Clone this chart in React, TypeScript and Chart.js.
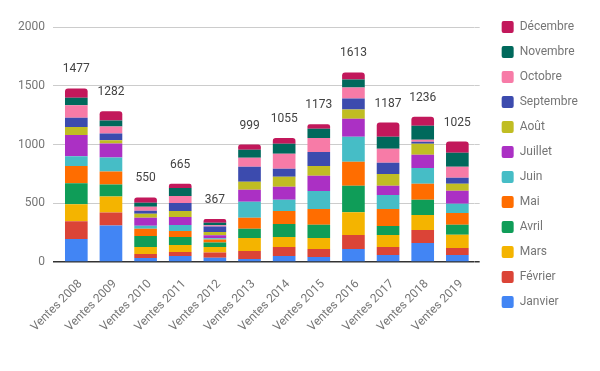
import React, { useEffect, useRef } from "react";
import { Chart, registerables } from "chart.js";

Chart.register(...registerables);

const categories = [
  "Ventes 2008", "Ventes 2009", "Ventes 2010", "Ventes 2011", "Ventes 2012", "Ventes 2013",
  "Ventes 2014", "Ventes 2015", "Ventes 2016", "Ventes 2017", "Ventes 2018", "Ventes 2019",
];

const janvier = [195, 311, 34, 51, 37, 26, 51, 43, 111, 60, 162, 60];
const fevrier = [152, 111, 34, 34, 43, 68, 77, 68, 119, 68, 111, 60];
const mars = [145, 136, 60, 60, 48, 111, 85, 94, 193, 102, 128, 111];
const avril = [179, 102, 94, 68, 37, 77, 111, 111, 227, 77, 128, 85];
const mai = [147, 111, 60, 51, 26, 94, 111, 136, 204, 145, 136, 102];
const juin = [83, 119, 26, 51, 11, 136, 94, 153, 213, 119, 136, 77];
const juillet = [179, 119, 68, 68, 26, 102, 111, 128, 153, 77, 111, 111];
const aout = [68, 28, 34, 51, 28, 68, 85, 85, 77, 102, 94, 60];
const septembre = [79, 57, 26, 68, 46, 128, 68, 119, 94, 94, 17, 51];
const octobre = [108, 60, 34, 60, 11, 77, 128, 119, 94, 119, 17, 94];
const novembre = [62, 51, 34, 68, 20, 68, 85, 77, 68, 102, 119, 119];
const decembre = [80, 77, 46, 35, 34, 44, 49, 40, 60, 122, 77, 95];

const seriesNames = [
  "Janvier", "Février", "Mars", "Avril", "Mai", "Juin",
  "Juillet", "Août", "Septembre", "Octobre", "Novembre", "Décembre",
];
const seriesData = [janvier, fevrier, mars, avril, mai, juin, juillet, aout, septembre, octobre, novembre, decembre];
const seriesColors = [
  "#4285F4", "#DB4437", "#F4B400", "#0F9D58", "#FF6D00", "#46BDC6",
  "#AB30C4", "#C0BD23", "#3C4BAE", "#F77BA7", "#00695C", "#C2185B",
];

const yTickStep = 500;
const yMax = 2000;

const totalsPlugin = {
  id: "totals",
  afterDatasetsDraw(chart: any) {
    const ctx = chart.ctx;
    const xs = chart.scales.x;
    const ys = chart.scales.y;
    ctx.save();
    ctx.font = "12px Roboto";
    ctx.fillStyle = "#424242";
    ctx.textAlign = "center";
    ctx.textBaseline = "alphabetic";
    categories.forEach((_, i) => {
      let total = 0;
      chart.data.datasets.forEach((ds: any) => (total += ds.data[i]));
      const x = xs.getPixelForValue(i);
      const y = ys.getPixelForValue(total) - 16;
      ctx.fillText(String(total), x, y);
    });
    ctx.restore();
  },
};

const gridColor = (c: any) => (c.tick && c.tick.value === 0 ? "#333333" : "#cccccc");
const gridWidth = (c: any) => (c.tick && c.tick.value === 0 ? 1.5 : 1);

export default function App() {
  const ref = useRef<HTMLCanvasElement | null>(null);
  useEffect(() => {
    if (!ref.current) return;
    Chart.defaults.font.family = "Roboto";
    const datasets = seriesNames.map((name, i) => ({
      label: name,
      data: seriesData[i],
      backgroundColor: seriesColors[i],
      borderWidth: 0,
      borderRadius: i === seriesNames.length - 1 ? { topLeft: 3, topRight: 3, bottomLeft: 0, bottomRight: 0 } : 0,
      barPercentage: 0.654,
      categoryPercentage: 1,
    }));
    const chart = new Chart(ref.current, {
      type: "bar",
      data: { labels: categories, datasets },
      options: {
        animation: false,
        responsive: true,
        maintainAspectRatio: false,
        layout: { padding: { top: 8, left: 0, right: 13.6, bottom: 0 } },
        plugins: {
          title: { display: true, text: "", font: { size: 12 }, padding: { top: 0, bottom: 4.6 } },
          tooltip: { enabled: false },
          legend: {
            position: "right",
            align: "start",
            reverse: true,
            labels: {
              boxWidth: 12,
              boxHeight: 12,
              padding: 13,
              color: "#757575",
              font: { size: 12 },
              useBorderRadius: true,
              borderRadius: 2,
            },
          },
        },
        scales: {
          x: {
            stacked: true,
            offset: true,
            grid: { display: false, drawTicks: false },
            border: { display: false },
            ticks: {
              color: "#757575",
              font: { size: 12 },
              minRotation: 45,
              maxRotation: 45,
              padding: 15,
              labelOffset: 4,
              autoSkip: false,
            },
            afterFit: (s: any) => { s.height = 109; },
          },
          y: {
            stacked: true,
            min: 0,
            max: yMax,
            ticks: {
              stepSize: yTickStep,
              color: "#757575",
              font: { size: 12 },
              padding: 8,
              callback: (v: any) => String(v),
            },
            grid: { color: gridColor, lineWidth: gridWidth, drawTicks: true, tickLength: 6 },
            border: { display: false },
            afterFit: (s: any) => { s.width = 59; },
          },
          y2: {
            position: "right",
            min: 0,
            max: yMax,
            ticks: { display: false, stepSize: yTickStep },
            grid: { color: gridColor, lineWidth: gridWidth, drawOnChartArea: false, drawTicks: true, tickLength: 5 },
            border: { display: false },
            afterFit: (s: any) => { s.width = 14; },
          },
        },
      },
      plugins: [totalsPlugin],
    });
    return () => chart.destroy();
  }, []);
  return (
    <div style={{ position: "absolute", left: 0, top: 0, width: 600, height: 371 }}>
      <canvas ref={ref} />
    </div>
  );
}
